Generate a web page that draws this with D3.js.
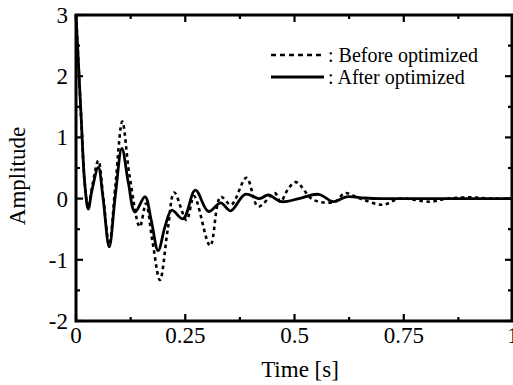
<!DOCTYPE html>
<html><head><meta charset="utf-8">
<script src="https://cdn.jsdelivr.net/npm/d3@7/dist/d3.min.js"></script>
<style>
html,body{margin:0;padding:0;background:#fff;}
svg{display:block;font-family:"Liberation Serif","Times New Roman",serif;}
</style></head>
<body>
<svg id="chart" width="513" height="385"></svg>
<script>
// Data
const timeAfter = [0,0.005,0.012,0.02,0.028,0.037,0.051,0.062,0.076,0.09,0.105,0.12,0.135,0.158,0.172,0.188,0.204,0.219,0.245,0.273,0.303,0.331,0.354,0.387,0.42,0.44,0.47,0.51,0.555,0.589,0.619,0.66,0.7,0.8,0.9,1.0];
const after     = [3.0,2.3,1.3,0.25,-0.17,0.15,0.51,0.0,-0.79,0.05,0.82,0.25,-0.22,0.03,-0.35,-0.85,-0.45,-0.19,-0.33,0.14,-0.21,-0.07,-0.2,0.07,0.0,0.06,-0.05,0.0,0.07,-0.05,0.03,0.01,0.0,0.0,0.0,0.0];
const timeBefore = [0,0.005,0.012,0.02,0.028,0.037,0.051,0.062,0.076,0.09,0.106,0.122,0.146,0.16,0.175,0.192,0.21,0.225,0.253,0.27,0.307,0.331,0.355,0.39,0.417,0.455,0.468,0.484,0.503,0.543,0.593,0.615,0.65,0.703,0.74,0.81,0.85,0.898,0.95,1.0];
const before     = [3.0,2.3,1.3,0.25,-0.15,0.2,0.62,0.05,-0.75,0.2,1.26,0.4,-0.46,-0.08,-0.7,-1.33,-0.5,0.1,-0.35,0.04,-0.77,0.03,-0.1,0.34,-0.13,0.09,-0.05,0.14,0.27,-0.02,-0.05,0.09,0.0,-0.1,0.0,-0.05,0.0,0.02,0.0,0.0];
const xMajor = [0,0.25,0.5,0.75,1];
const xMajorLabels = ["0","0.25","0.5","0.75","1"];
const yMajor = [-2,-1,0,1,2,3];
const yMajorLabels = ["-2","-1","0","1","2","3"];
const legendLabels = [": Before optimized", ": After optimized"];

const svg = d3.select("#chart");
const x = d3.scaleLinear().domain([0,1]).range([76,513]);
const y = d3.scaleLinear().domain([-2,3]).range([321,15]);

const xMinor = d3.range(0,1.0001,0.125);
const yMinor = d3.range(-2,3.0001,0.5);

// data lines
const line = (ts, vs) => d3.line().x((d,i)=>x(ts[i])).y((d,i)=>y(vs[i])).curve(d3.curveCatmullRom.alpha(0.5))(vs);
svg.append("path").attr("d", line(timeBefore, before))
  .attr("fill","none").attr("stroke","#000").attr("stroke-width",2.6)
  .attr("stroke-dasharray","3.5,3.5");
svg.append("path").attr("d", line(timeAfter, after))
  .attr("fill","none").attr("stroke","#000").attr("stroke-width",2.8);

// ticks
const tk = svg.append("g").attr("stroke","#000").attr("stroke-width",2.2);
xMinor.forEach(v=>{
  const major = Math.abs(v*4-Math.round(v*4))<1e-6;
  const L = major?7:4;
  tk.append("line").attr("x1",x(v)).attr("x2",x(v)).attr("y1",y(-2)).attr("y2",y(-2)-L);
  tk.append("line").attr("x1",x(v)).attr("x2",x(v)).attr("y1",y(3)).attr("y2",y(3)+L);
});
yMinor.forEach(v=>{
  const major = Math.abs(v-Math.round(v))<1e-6;
  const L = major?7:4;
  tk.append("line").attr("y1",y(v)).attr("y2",y(v)).attr("x1",x(0)).attr("x2",x(0)+L);
  tk.append("line").attr("y1",y(v)).attr("y2",y(v)).attr("x1",x(1)-1).attr("x2",x(1)-1-L);
});

// frame
svg.append("rect").attr("x",x(0)).attr("y",y(3)).attr("width",x(1)-1-x(0)).attr("height",y(-2)-y(3))
  .attr("fill","none").attr("stroke","#000").attr("stroke-width",3);

// axis labels
const xl = svg.append("g").attr("font-size",23).attr("text-anchor","middle");
xMajor.forEach((v,i)=>xl.append("text").attr("x",x(v)).attr("y",343).text(xMajorLabels[i]));
const yl = svg.append("g").attr("font-size",23).attr("text-anchor","end");
yMajor.forEach((v,i)=>yl.append("text").attr("x",68).attr("y",y(v)+8).text(yMajorLabels[i]));

svg.append("text").attr("x",300).attr("y",377).attr("text-anchor","middle").attr("font-size",23).text("Time [s]");
svg.append("text").attr("transform","translate(25,176) rotate(-90)").attr("text-anchor","middle").attr("font-size",23).text("Amplitude");

// legend
const lg = svg.append("g");
lg.append("line").attr("x1",271).attr("x2",324).attr("y1",55).attr("y2",55).attr("stroke","#000").attr("stroke-width",2.6).attr("stroke-dasharray","5,4");
lg.append("line").attr("x1",271).attr("x2",324).attr("y1",77).attr("y2",77).attr("stroke","#000").attr("stroke-width",2.8);
lg.append("text").attr("x",328).attr("y",62).attr("font-size",20).text(legendLabels[0]);
lg.append("text").attr("x",328).attr("y",84).attr("font-size",20).text(legendLabels[1]);
</script>
</body></html>
